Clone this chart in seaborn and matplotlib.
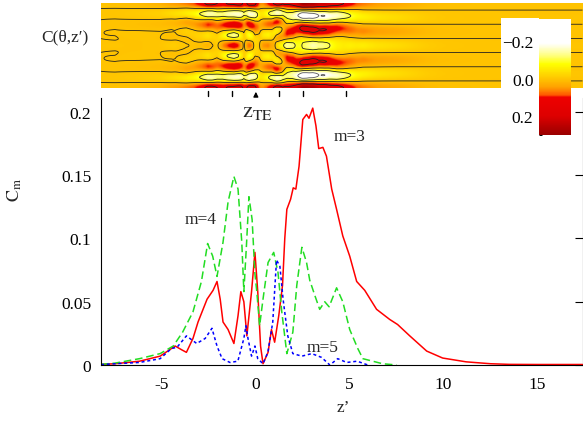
import numpy as np
import matplotlib
matplotlib.use('Agg')
import matplotlib.pyplot as plt
import matplotlib.transforms as mtransforms
import seaborn as sns
from matplotlib.colors import LinearSegmentedColormap, Normalize
from matplotlib.patches import Rectangle
from matplotlib.ticker import MultipleLocator, FuncFormatter

# C_m(z')
z3 = [-8.25, -7.5, -6.2, -5.1, -4.3, -3.95, -3.7, -3.35, -3.08, -2.6, -2.28, -2.07, -1.9,
      -1.75, -1.48, -1.17, -0.95, -0.8, -0.64, -0.48, -0.23, -0.05, 0.1, 0.25, 0.38, 0.65,
      0.83, 1.0, 1.22, 1.42, 1.54, 1.65, 1.85, 1.99, 2.13, 2.3, 2.5, 2.7, 2.83, 3.03, 3.2,
      3.35, 3.57, 3.76, 4.04, 4.3, 4.63, 5.0, 5.37, 5.8, 6.43, 7.13, 7.55, 8.2, 9.1, 9.95,
      11.2, 12.5, 13.5, 15.0, 17.4]
c3 = [0.0005, 0.001, 0.003, 0.007, 0.015, 0.012, 0.010, 0.021, 0.034, 0.052, 0.059, 0.066,
      0.052, 0.034, 0.028, 0.017, 0.039, 0.058, 0.05, 0.023, 0.058, 0.089, 0.058, 0.015,
      0.001, 0.010, 0.028, 0.018, 0.039, 0.063, 0.1, 0.123, 0.131, 0.140, 0.139, 0.157,
      0.194, 0.198, 0.195, 0.203, 0.189, 0.171, 0.172, 0.165, 0.139, 0.123, 0.102, 0.086,
      0.066, 0.059, 0.044, 0.036, 0.032, 0.023, 0.011, 0.0055, 0.0025, 0.001, 0.0005,
      0.0004, 0.0004]

z4 = [-8.25, -7.5, -6.2, -5.1, -4.4, -3.9, -3.35, -2.9, -2.57, -2.3, -2.07, -1.75, -1.48,
      -1.17, -0.95, -0.75, -0.64, -0.5, -0.37, -0.2, -0.05, 0.05, 0.2, 0.38, 0.65, 0.95,
      1.18, 1.38, 1.65, 1.97, 2.18, 2.45, 2.7, 2.87, 3.14, 3.4, 3.67, 3.9, 4.3, 4.63, 5.0,
      5.43, 5.7, 6.75, 7.5]
c4 = [0.0005, 0.0015, 0.005, 0.009, 0.015, 0.026, 0.042, 0.066, 0.096, 0.086, 0.070, 0.097,
      0.129, 0.149, 0.139, 0.097, 0.058, 0.095, 0.133, 0.115, 0.072, 0.058, 0.031, 0.052,
      0.081, 0.089, 0.073, 0.042, 0.009, 0.026, 0.063, 0.093, 0.081, 0.067, 0.055, 0.044,
      0.050, 0.046, 0.061, 0.050, 0.028, 0.013, 0.005, 0.001, 0.0]

z5 = [-8.25, -7.5, -6.2, -5.1, -4.5, -4.2, -3.7, -3.15, -2.7, -2.34, -2.07, -1.8, -1.38,
      -0.96, -0.64, -0.53, -0.42, -0.23, -0.05, 0.1, 0.38, 0.64, 0.9, 1.1, 1.28, 1.45, 1.7,
      1.97, 2.45, 2.98, 3.5, 3.94, 4.36, 4.84, 5.4, 5.96]
c5 = [0.0003, 0.001, 0.002, 0.005, 0.013, 0.014, 0.023, 0.017, 0.021, 0.029, 0.015, 0.005,
      0.002, 0.003, 0.021, 0.031, 0.021, 0.007, 0.015, 0.005, 0.001, 0.010, 0.034, 0.083,
      0.078, 0.052, 0.023, 0.009, 0.007, 0.009, 0.006, 0.000, 0.005, 0.002, 0.003, 0.0]

modes = [(3, z3, c3), (4, z4, c4), (5, z5, c5)]
mode_labels = {3: (4.97, 0.181), 4: (-2.92, 0.115), 5: (3.53, 0.0142)}
marker_z = [-2.55, -1.28, 1.22, 2.5, 4.8]
z_te = 0.0

z_min, z_max = -8.25, 17.4

sns.set_style('white')
plt.rcParams['font.family'] = ['Liberation Serif', 'DejaVu Serif']
plt.rcParams['mathtext.fontset'] = 'stix'
plt.rcParams['contour.negative_linestyle'] = 'solid'
plt.rcParams['axes.unicode_minus'] = False

W, H = 583, 427
fig = plt.figure(figsize=(W / 100, H / 100), dpi=100)


def box(x0, y0, x1, y1):
    # pixel box, origin top-left
    return [x0 / W, 1 - y1 / H, (x1 - x0) / W, (y1 - y0) / H]


ax = fig.add_axes(box(101, 99, 582.5, 366))
hax = fig.add_axes(box(101, 4, 582.5, 89))
cax = fig.add_axes(box(539, 20, 571, 136))
hax.set_zorder(0)
cax.set_zorder(2)

# lower panel: mode amplitudes
styles = {3: dict(color='#ff0000', linestyle='-'),
          4: dict(color='#22dd22', linestyle=(0, (5, 2.5))),
          5: dict(color='#0000ff', linestyle=(0, (2, 1.8)))}
for m, zm, cm in modes:
    sns.lineplot(x=zm, y=cm, ax=ax, estimator=None, sort=False, lw=1.1, **styles[m])
    tx, ty = mode_labels[m]
    ax.text(tx, ty, f'm={m}', ha='center', va='center', fontsize=12.5)

ax.set_xlim(z_min, z_max)
ax.set_ylim(0, 0.211)
ax.set_xticks([-5, 0, 5, 10, 15])
ax.set_yticks([0, 0.05, 0.1, 0.15, 0.2])
ax.yaxis.set_major_formatter(FuncFormatter(lambda v, p: f'{v:g}'))
ax.tick_params(axis='both', direction='in', length=5.5, width=0.8, labelsize=12.5,
               colors='black')
ax.tick_params(axis='x', pad=8, top=False)
ax.tick_params(axis='y', pad=7, right=True)
ax.spines['top'].set_visible(False)
for s in ['left', 'right', 'bottom']:
    ax.spines[s].set_linewidth(0.8)
    ax.spines[s].set_color('black')
ax.set_xlabel('')
ax.set_ylabel('')

# upper panel: C(theta, z') built from the mode amplitudes
zg = np.linspace(z_min, z_max, 800)
th = np.linspace(0, 2 * np.pi, 241)
field = np.zeros((th.size, zg.size))
for m, zm, cm in modes:
    field += np.interp(zg, zm, cm)[None, :] * np.cos(m * th)[:, None]

stops = [(-0.32, '#ffffff'), (-0.19, '#ffffff'), (-0.13, '#ffff88'), (-0.08, '#ffff00'),
         (0.0, '#ffc400'), (0.045, '#ffa000'), (0.085, '#ff5a00'), (0.10, '#ee0000'),
         (0.2, '#dd0000'), (0.30, '#990000')]
vmin, vmax = -0.32, 0.30
cmap = LinearSegmentedColormap.from_list(
    'cz', [((v - vmin) / (vmax - vmin), c) for v, c in stops])
norm = Normalize(vmin, vmax)

im = hax.imshow(field, extent=(z_min, z_max, 2 * np.pi, 0), aspect='auto', cmap=cmap,
                norm=norm, interpolation='bilinear')
hax.contour(zg, th, field, levels=[-0.1, 0.0, 0.15], colors='#222222', linewidths=0.6)
hax.contour(zg, th, field, levels=[-0.2], colors='#555555', linewidths=0.6)
hax.set_xlim(z_min, z_max)
hax.set_ylim(2 * np.pi, 0)
hax.axis('off')

trans = mtransforms.blended_transform_factory(hax.transData, hax.transAxes)
for zm in marker_z:
    hax.plot([zm, zm], [-0.035, -0.094], color='black', lw=1.0, transform=trans,
             clip_on=False)
hax.annotate('', xy=(z_te, -0.012), xytext=(z_te, -0.118), xycoords=trans,
             textcoords=trans, arrowprops=dict(arrowstyle='-|>', color='black', lw=0.9,
                                               mutation_scale=7))

# white box behind colorbar labels
fig.add_artist(Rectangle((501 / W, 1 - 100 / H), 38 / W, 81 / H, transform=fig.transFigure,
                         facecolor='white', edgecolor='none', zorder=1))

cb = fig.colorbar(im, cax=cax)
cb.outline.set_visible(False)
cax.invert_yaxis()
cax.yaxis.set_ticks_position('left')
cax.yaxis.set_label_position('left')
cb.set_ticks([-0.2, 0.0, 0.2])
cax.yaxis.set_major_formatter(FuncFormatter(lambda v, p: f'{v + 0:.1f}'.replace('-', '\u2212')))
cax.yaxis.set_minor_locator(MultipleLocator(0.05))
cax.tick_params(which='both', direction='in', length=2.5, width=0.7, labelsize=12.5,
                pad=4, colors='black')

# labels
fig.text(65 / W, 1 - 37 / H, 'C(θ,z′)', ha='center', va='center', fontsize=12.5)
fig.text(257 / W, 1 - 113 / H, r'$\mathrm{z_{TE}}$', ha='center', va='center', fontsize=16)
fig.text(343 / W, 1 - 408 / H, 'z’', ha='center', va='center', fontsize=12.5)
fig.text(15 / W, 1 - 190 / H, r'$\mathrm{C_m}$', ha='center', va='center', fontsize=13,
         rotation=90)

fig.savefig('out.png', dpi=100)
